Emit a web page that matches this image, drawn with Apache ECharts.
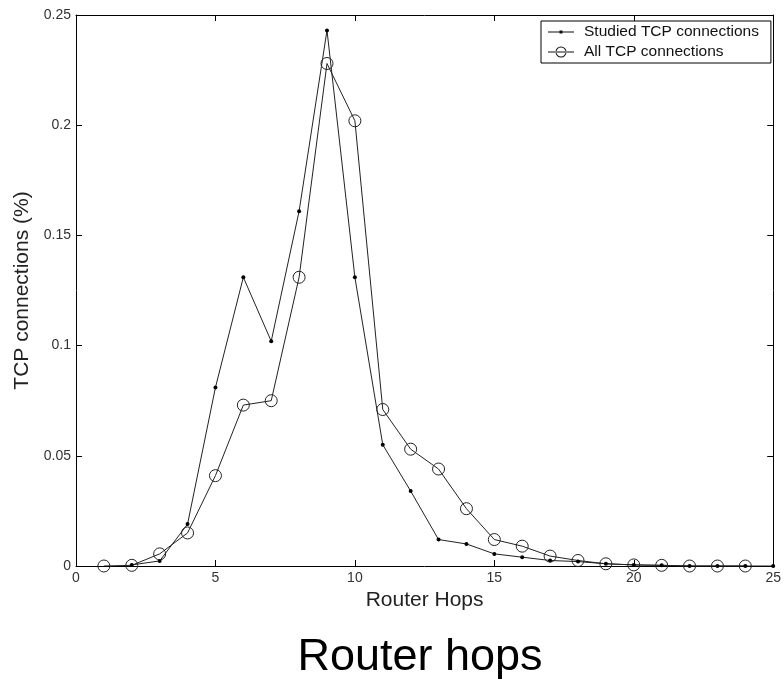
<!DOCTYPE html>
<html>
<head>
<meta charset="utf-8">
<script src="https://cdn.jsdelivr.net/npm/echarts@6/dist/echarts.min.js"></script>
<style>
  html, body { margin: 0; padding: 0; background: #fff; }
  #chart { width: 784px; height: 686px; }
</style>
</head>
<body>
<div id="chart"></div>
<script>
// 路由跳数分布
var hops = [1, 2, 3, 4, 5, 6, 7, 8, 9, 10, 11, 12, 13, 14, 15, 16, 17, 18, 19, 20, 21, 22, 23, 24, 25];
// Studied TCP connections (从 2 跳开始)
var studied = [null, 0.0005, 0.0023, 0.019, 0.081, 0.131, 0.102, 0.161, 0.243, 0.131, 0.055, 0.034, 0.012, 0.010, 0.0055, 0.004, 0.0025, 0.002, 0.001, 0.0005, 0.0003, 0, 0, 0, 0];
// All TCP connections (到 24 跳为止)
var allConn = [0, 0.0003, 0.0055, 0.015, 0.041, 0.073, 0.075, 0.131, 0.228, 0.202, 0.071, 0.053, 0.044, 0.026, 0.012, 0.009, 0.0045, 0.0025, 0.001, 0.0005, 0.0003, 0, 0, 0, null];

function pairs (xs, ys) {
    var out = [];
    for (var i = 0; i < xs.length; i++) {
        if (ys[i] !== null) out.push([xs[i], ys[i]]);
    }
    return out;
}

var font = 'Liberation Sans, Arial, sans-serif';
// 图例图标：线 + 小点 / 线 + 空心圆 (角上的极小方块只用来固定图标尺寸)
var corners = 'M0,0h0.01v0.01h-0.01Z M30.99,11.99h0.01v0.01h-0.01Z ';
var iconStudied = 'path://' + corners + 'M0,5.5h26v1h-26Z M11.5,4.5h3v3h-3Z';
var iconAll = 'path://' + corners + 'M0,5.5h26v1h-26Z M18.5,6A5.5,5.5 0 1,0 7.5,6A5.5,5.5 0 1,0 18.5,6Z M17.5,6A4.5,4.5 0 1,1 8.5,6A4.5,4.5 0 1,1 17.5,6Z';

var myChart = echarts.init(document.getElementById('chart'));
var frame = { show: true, onZero: false, lineStyle: { color: '#000', width: 1 } };
var tick = { show: true, inside: true, length: 6, lineStyle: { color: '#000' } };

var option = {
    animation: false,
    graphic: [{
        type: 'text',
        x: 420,
        y: 658,
        style: {
            text: 'Router hops',
            font: '45px ' + font,
            fill: '#000',
            textAlign: 'center',
            textVerticalAlign: 'middle'
        }
    }],
    legend: {
        orient: 'vertical',
        left: 541,
        top: 21,
        borderColor: '#000',
        borderWidth: 1,
        borderRadius: 0,
        padding: [3, 12, 3, 7],
        itemGap: 4,
        itemWidth: 31,
        itemHeight: 12,
        textStyle: { fontFamily: font, fontSize: 15.5, color: '#111' },
        data: [
            { name: 'Studied TCP connections', icon: iconStudied, itemStyle: { color: '#111', borderWidth: 0 } },
            { name: 'All TCP connections', icon: iconAll, itemStyle: { color: '#111', borderWidth: 0 } }
        ]
    },
    grid: { left: 76, right: 7, top: 15, bottom: 120 },
    xAxis: [{
        type: 'value', min: 0, max: 25, interval: 5,
        name: 'Router Hops', nameLocation: 'middle', nameGap: 22,
        nameTextStyle: { fontFamily: font, fontSize: 21, color: '#222' },
        axisLine: frame, axisTick: tick,
        axisLabel: { fontFamily: font, fontSize: 14, color: '#333', margin: 5 },
        splitLine: { show: false }
    }, {
        type: 'value', min: 0, max: 25, interval: 5, position: 'top',
        axisLine: frame, axisTick: tick, axisLabel: { show: false }, splitLine: { show: false }
    }],
    yAxis: [{
        type: 'value', min: 0, max: 0.25, interval: 0.05,
        name: 'TCP connections (%)', nameLocation: 'middle', nameGap: 42, nameRotate: 90,
        nameTextStyle: { fontFamily: font, fontSize: 21, color: '#222' },
        axisLine: frame, axisTick: tick,
        axisLabel: { fontFamily: font, fontSize: 14, color: '#333', margin: 5 },
        splitLine: { show: false }
    }, {
        type: 'value', min: 0, max: 0.25, interval: 0.05, position: 'right',
        axisLine: frame, axisTick: tick, axisLabel: { show: false }, splitLine: { show: false }
    }],
    series: [{
        name: 'Studied TCP connections',
        type: 'line',
        data: pairs(hops, studied),
        symbol: 'circle',
        symbolSize: 4,
        itemStyle: { color: '#000' },
        lineStyle: { color: '#222', width: 1 }
    }, {
        name: 'All TCP connections',
        type: 'line',
        data: pairs(hops, allConn),
        symbol: 'circle',
        symbolSize: 12,
        itemStyle: { color: 'rgba(255,255,255,0)', borderColor: '#222', borderWidth: 1 },
        lineStyle: { color: '#222', width: 1 }
    }]
};
myChart.setOption(option);
</script>
</body>
</html>
